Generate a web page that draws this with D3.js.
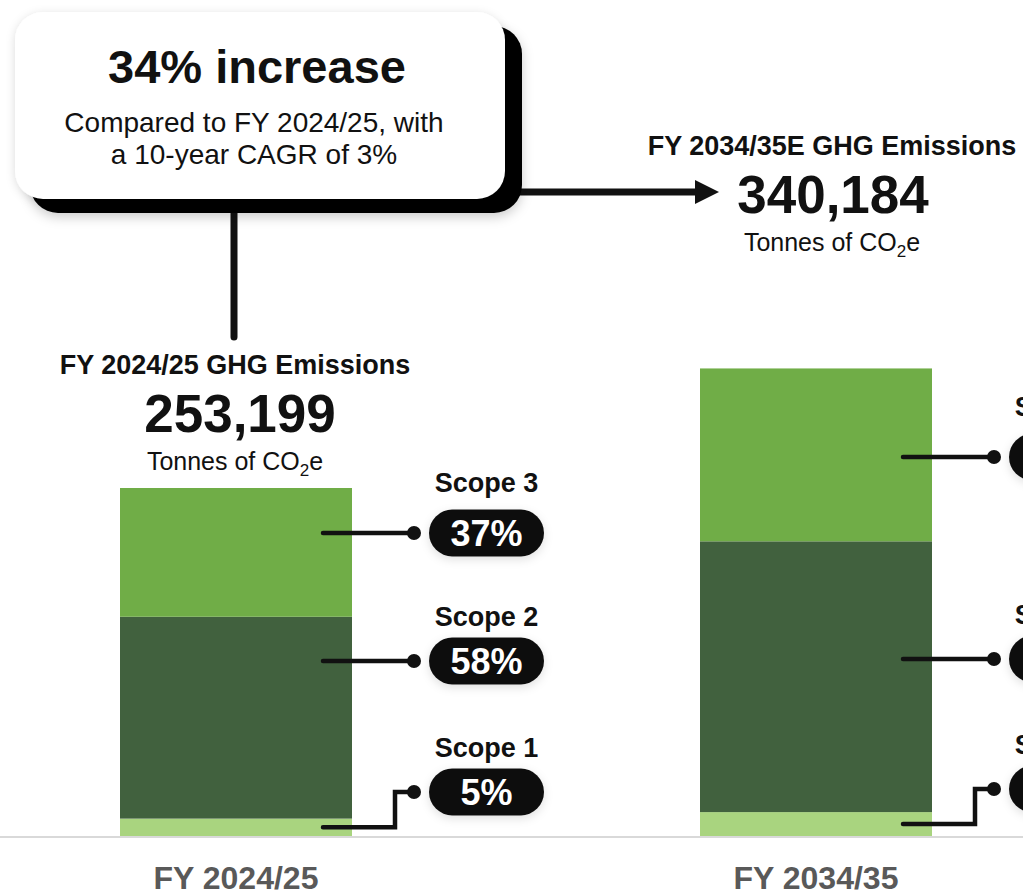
<!DOCTYPE html>
<html>
<head>
<meta charset="utf-8">
<script src="https://cdn.jsdelivr.net/npm/d3@7/dist/d3.min.js"></script>
<style>
  html, body { margin: 0; padding: 0; background: #fff; overflow: hidden; }
  svg { display: block; font-family: "Liberation Sans", Arial, Helvetica, sans-serif; }
</style>
</head>
<body>
<svg id="chart" width="1023" height="895"></svg>
<script>
// ---- Data ----
const categories = ["FY 2024/25", "FY 2034/35"];
const scopeNames = ["Scope 1", "Scope 2", "Scope 3"];
const scope1 = [12660, 17400];
const scope2 = [146855, 197000];
const scope3 = [93684, 125784];
const totals = [253199, 340184];
const pctScope1 = ["5%", "5%"];
const pctScope2 = ["58%", "58%"];
const pctScope3 = ["37%", "37%"];
const headings = ["FY 2024/25 GHG Emissions", "FY 2034/35E GHG Emissions"];
const calloutTitle = "34% increase";
const calloutLines = ["Compared to FY 2024/25, with", "a 10-year CAGR of 3%"];

// ---- Style / layout ----
const colors = ["#a9d47f", "#41613e", "#70ad47"];
const W = 1023, H = 895;
const baseY = 836;
const labelY = [[792, 661, 533], [789, 659, 457]];  // pill centre per bar per scope
const nameOffset = [-35, -35, -41];
const headerPos = [{ x: 235, y: 374, nx: 240 }, { x: 832, y: 155, nx: 833 }];

const svg = d3.select("#chart");
const defs = svg.append("defs");
const f = defs.append("filter").attr("id", "soft").attr("x", "-20%").attr("y", "-20%").attr("width", "140%").attr("height", "160%");
f.append("feDropShadow").attr("dx", 0).attr("dy", 4).attr("stdDeviation", 6).attr("flood-color", "#000").attr("flood-opacity", 0.2);
const f2 = defs.append("filter").attr("id", "soft2").attr("x", "-30%").attr("y", "-50%").attr("width", "160%").attr("height", "200%");
f2.append("feDropShadow").attr("dx", 0).attr("dy", 3).attr("stdDeviation", 5).attr("flood-color", "#000").attr("flood-opacity", 0.12);
const f3 = defs.append("filter").attr("id", "soft3").attr("x", "-20%").attr("y", "-20%").attr("width", "140%").attr("height", "150%");
f3.append("feDropShadow").attr("dx", 0).attr("dy", 2).attr("stdDeviation", 5).attr("flood-color", "#000").attr("flood-opacity", 0.14);

const table = categories.map((c, i) => ({ cat: c, s1: scope1[i], s2: scope2[i], s3: scope3[i] }));
const stack = d3.stack().keys(["s1", "s2", "s3"]);
const series = stack(table);

const x = d3.scaleBand().domain(categories).range([-54, 1106]).paddingInner(0.6).paddingOuter(0.3);
const y = d3.scaleLinear().domain([0, d3.max(totals)]).range([baseY, baseY - d3.max(totals) * 348 / 253199]);

// baseline
svg.append("line").attr("x1", 0).attr("x2", W).attr("y1", baseY + 1).attr("y2", baseY + 1)
  .attr("stroke", "#d9d9d9").attr("stroke-width", 2);

// bars
svg.append("g").selectAll("g").data(series).join("g")
  .attr("fill", (d, i) => colors[i])
  .selectAll("rect").data(d => d).join("rect")
  .attr("x", d => x(d.data.cat))
  .attr("width", x.bandwidth())
  .attr("y", d => y(d[1]))
  .attr("height", d => y(d[0]) - y(d[1]));

// category labels
svg.append("g").selectAll("text").data(categories).join("text")
  .attr("x", d => x(d) + x.bandwidth() / 2)
  .attr("y", 889)
  .attr("text-anchor", "middle")
  .attr("font-weight", "bold")
  .attr("font-size", 32)
  .attr("fill", "#595959")
  .text(d => d);

// headers above bars
const pcts = [pctScope1, pctScope2, pctScope3];
categories.forEach((c, i) => {
  const hp = headerPos[i];
  const g = svg.append("g");
  g.append("text").attr("x", hp.x).attr("y", hp.y).attr("text-anchor", "middle")
    .attr("font-weight", "bold").attr("font-size", 27).attr("fill", "#111").text(headings[i]);
  g.append("text").attr("x", hp.nx).attr("y", hp.y + 58).attr("text-anchor", "middle")
    .attr("font-weight", "bold").attr("font-size", 53).attr("fill", "#111").text(d3.format(",")(totals[i]));
  const t = g.append("text").attr("x", hp.x).attr("y", hp.y + 96).attr("text-anchor", "middle")
    .attr("font-size", 25).attr("fill", "#111");
  t.append("tspan").text("Tonnes of CO");
  t.append("tspan").attr("font-size", 17).attr("dy", 6).text("2");
  t.append("tspan").attr("dy", -6).text("e");

  // scope labels and leaders
  const right = x(c) + x.bandwidth();
  scopeNames.forEach((s, k) => {
    const py = labelY[i][k];
    const seg = series[k][i];
    const dotX = right + 62;
    const lg = svg.append("g");
    if (k === 0) {
      const sy = (y(seg[0]) + y(seg[1])) / 2;
      lg.append("path")
        .attr("d", `M${right - 29},${sy}H${right + 43}V${py}H${dotX}`)
        .attr("fill", "none").attr("stroke", "#111").attr("stroke-width", 4.5)
        .attr("stroke-linecap", "round").attr("stroke-linejoin", "miter");
    } else {
      lg.append("line").attr("x1", right - 29).attr("x2", dotX).attr("y1", py).attr("y2", py)
        .attr("stroke", "#111").attr("stroke-width", 4.5).attr("stroke-linecap", "round");
    }
    lg.append("circle").attr("cx", dotX).attr("cy", py).attr("r", 7).attr("fill", "#111");
    const px = right + 77;
    lg.append("rect").attr("x", px).attr("y", py - 23.5).attr("width", 115).attr("height", 47)
      .attr("rx", 23.5).attr("fill", "#111").attr("filter", "url(#soft2)");
    lg.append("text").attr("x", px + 57.5).attr("y", py + 12.5).attr("text-anchor", "middle")
      .attr("font-weight", "bold").attr("font-size", 36).attr("fill", "#fff").text(pcts[k][i]);
    lg.append("text").attr("x", px + 57.5).attr("y", py + nameOffset[k]).attr("text-anchor", "middle")
      .attr("font-weight", "bold").attr("font-size", 27).attr("fill", "#111").text(s);
  });
});

// connectors
svg.append("line").attr("x1", 234).attr("x2", 234).attr("y1", 205).attr("y2", 337)
  .attr("stroke", "#111").attr("stroke-width", 7).attr("stroke-linecap", "round");
svg.append("line").attr("x1", 515).attr("x2", 700).attr("y1", 192).attr("y2", 192)
  .attr("stroke", "#111").attr("stroke-width", 7);
svg.append("path").attr("d", "M695,180L719,192L695,204Z").attr("fill", "#111");

// callout box
const box = svg.append("g");
box.append("rect").attr("x", 30).attr("y", 26).attr("width", 492).attr("height", 187).attr("rx", 28)
  .attr("fill", "#000").attr("filter", "url(#soft)");
box.append("rect").attr("x", 15).attr("y", 12).attr("width", 490).attr("height", 187).attr("rx", 28)
  .attr("fill", "#fff").attr("filter", "url(#soft3)");
box.append("text").attr("x", 257).attr("y", 83).attr("text-anchor", "middle")
  .attr("font-weight", "bold").attr("font-size", 47).attr("fill", "#111").text(calloutTitle);
box.append("g").selectAll("text").data(calloutLines).join("text")
  .attr("x", 254).attr("y", (d, i) => 132 + i * 32).attr("text-anchor", "middle")
  .attr("font-size", 28).attr("fill", "#111").text(d => d);
</script>
</body>
</html>
